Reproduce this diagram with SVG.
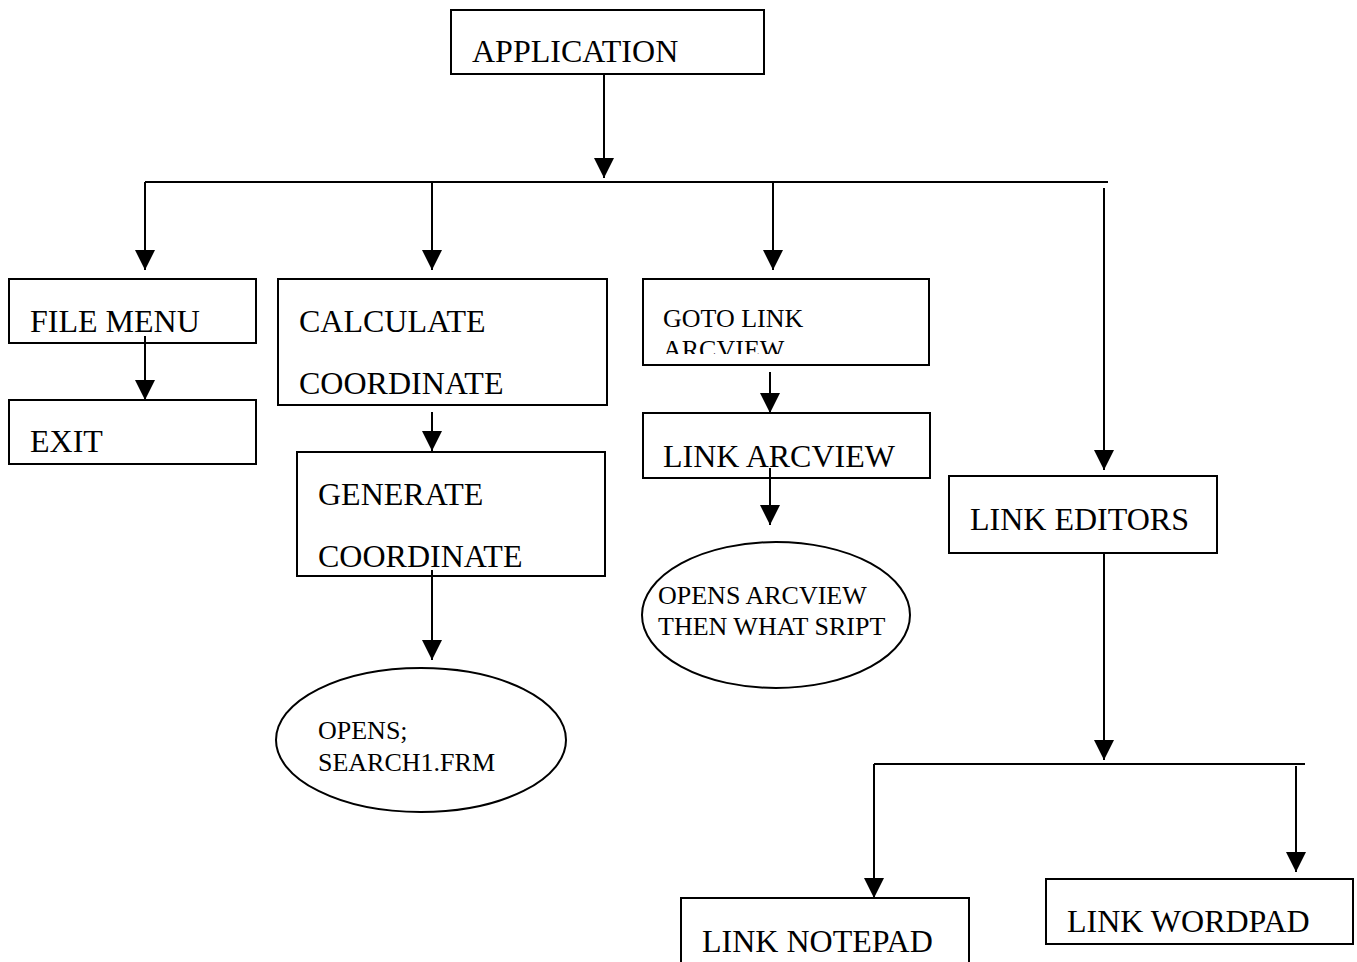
<svg xmlns="http://www.w3.org/2000/svg" width="1357" height="962" viewBox="0 0 1357 962">
<style>
.box{fill:#fff;stroke:#000;stroke-width:2}
.t{font-family:'Liberation Serif','Times New Roman',Times,'DejaVu Serif',serif;font-size:32px;fill:#000}
.s{font-family:'Liberation Serif','Times New Roman',Times,'DejaVu Serif',serif;font-size:26px;fill:#000}
.c{fill:none;stroke:#000;stroke-width:2}
</style>
<defs>
<marker id="ah" markerUnits="userSpaceOnUse" markerWidth="20" markerHeight="20" viewBox="0 0 20 20" refX="20" refY="10" orient="auto">
<path d="M0,0 L20,10 L0,20 Z" fill="#000"/>
</marker>
<clipPath id="clipGoto"><rect x="643" y="279" width="287" height="75"/></clipPath>
<clipPath id="clipGen"><rect x="297" y="452" width="309" height="117"/></clipPath>
</defs>
<g id="application"><rect class="box" x="451" y="10" width="313" height="64"/><text class="t" x="472" y="62">APPLICATION</text></g>
<g id="filemenu"><rect class="box" x="9" y="279" width="247" height="64"/><text class="t" x="30" y="332">FILE MENU</text></g>
<g id="exit"><rect class="box" x="9" y="400" width="247" height="64"/><text class="t" x="30" y="452">EXIT</text></g>
<g id="calculate"><rect class="box" x="278" y="279" width="329" height="126"/><text class="t" x="299" y="332">CALCULATE</text><text class="t" x="299" y="394">COORDINATE</text></g>
<g id="generate"><rect class="box" x="297" y="452" width="308" height="124"/><g clip-path="url(#clipGen)"><text class="t" x="318" y="505">GENERATE</text><text class="t" x="318" y="567">COORDINATE</text></g></g>
<g id="search"><ellipse class="box" cx="421" cy="740" rx="145" ry="72"/><text class="s" x="318" y="739">OPENS;</text><text class="s" x="318" y="771">SEARCH1.FRM</text></g>
<g id="gotolink"><rect class="box" x="643" y="279" width="286" height="86"/><g clip-path="url(#clipGoto)"><text class="s" x="663" y="327">GOTO LINK</text><text class="s" x="663" y="358">ARCVIEW</text></g></g>
<g id="linkarcview"><rect class="box" x="643" y="413" width="287" height="65"/><text class="t" x="663" y="467">LINK ARCVIEW</text></g>
<g id="opensarcview"><ellipse class="box" cx="776" cy="615" rx="134" ry="73"/><text class="s" x="658" y="604">OPENS ARCVIEW</text><text class="s" x="658" y="635">THEN WHAT SRIPT</text></g>
<g id="linkeditors"><rect class="box" x="949" y="476" width="268" height="77"/><text class="t" x="970" y="530">LINK EDITORS</text></g>
<g id="linknotepad"><rect class="box" x="681" y="898" width="288" height="80"/><text class="t" x="702" y="952">LINK NOTEPAD</text></g>
<g id="linkwordpad"><rect class="box" x="1046" y="879" width="307" height="65"/><text class="t" x="1067" y="932">LINK WORDPAD</text></g>
<g id="connectors">
<path class="c" d="M604,74 V178" marker-end="url(#ah)"/>
<path class="c" d="M145,182 H1108"/>
<path class="c" d="M145,182 V270" marker-end="url(#ah)"/>
<path class="c" d="M432,182 V270" marker-end="url(#ah)"/>
<path class="c" d="M773,182 V270" marker-end="url(#ah)"/>
<path class="c" d="M1104,188 V470" marker-end="url(#ah)"/>
<path class="c" d="M145,336 V400" marker-end="url(#ah)"/>
<path class="c" d="M432,412 V451" marker-end="url(#ah)"/>
<path class="c" d="M432,570 V660" marker-end="url(#ah)"/>
<path class="c" d="M770,372 V413" marker-end="url(#ah)"/>
<path class="c" d="M770,468 V525" marker-end="url(#ah)"/>
<path class="c" d="M1104,553 V760" marker-end="url(#ah)"/>
<path class="c" d="M874,764 H1305"/>
<path class="c" d="M874,764 V898" marker-end="url(#ah)"/>
<path class="c" d="M1296,766 V872" marker-end="url(#ah)"/>
</g>
</svg>
